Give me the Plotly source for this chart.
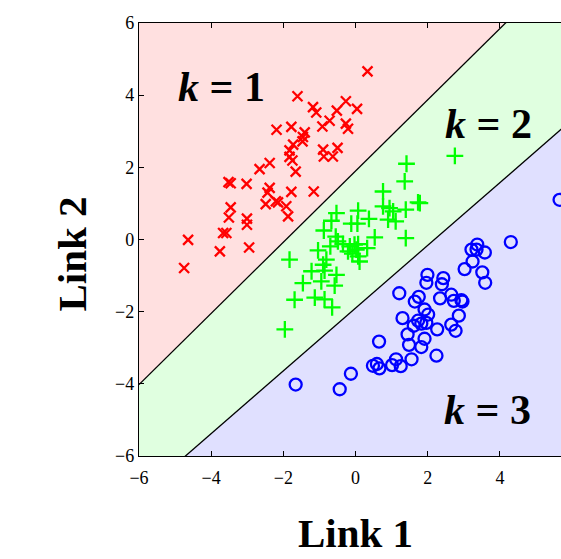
import plotly.graph_objects as go
import numpy as np

# ---- data ----
red_x = [0.33, -1.61, -1.18, -1.09, -0.27, 0.04, -0.52, -0.72, -0.92, -0.27, -0.21,
         -2.19, -1.78, -1.41, -1.46, -1.47, -1.73, -1.83, -1.83, -1.75, -1.66, -0.90,
         -0.88, -0.63, -0.50, -2.38, -2.66, -3.52, -3.46, -3.02, -2.38, -2.44, -1.78,
         -1.16, -2.49, -2.21, -2.15, -1.92, -1.87, -3.46, -3.51, -3.01, -3.01, -3.67,
         -3.58, -4.64, -3.76, -2.95, -4.75]
red_y = [4.66, 3.97, 3.67, 3.52, 3.83, 3.62, 3.57, 3.29, 3.13, 3.21, 3.07,
         3.04, 3.12, 2.97, 2.84, 2.72, 2.63, 2.47, 2.29, 2.19, 1.88, 2.49,
         2.30, 2.30, 2.54, 2.12, 1.95, 1.59, 1.56, 1.54, 1.43, 1.30, 1.32,
         1.33, 0.98, 1.06, 1.03, 0.92, 0.64, 0.89, 0.61, 0.58, 0.41, 0.18,
         0.18, -0.01, -0.33, -0.22, -0.79]

green_x = [2.75, 1.41, 1.36, 0.76, 1.73, 1.78, 0.76, 0.94, 1.04, 1.39, 0.90, 1.11,
           0.07, 0.37, -0.53, -0.67, -0.12, 0.05, -0.88, 0.53, 1.39, -0.55, -0.49,
           -0.70, -0.35, -0.16, -0.03, 0.07, -0.21, -0.09, 0.02, 0.32, 0.07, 0.11,
           -1.04, -1.83, -0.81, -0.90, -1.22, -0.86, -0.53, -1.46, -0.95, -0.58,
           -1.13, -0.86, -1.69, -0.65, -1.96]
green_y = [2.32, 2.10, 1.61, 1.33, 1.03, 1.01, 0.92, 0.87, 0.78, 0.83, 0.55, 0.50,
           0.80, 0.57, 0.73, 0.52, 0.44, 0.44, 0.25, 0.06, 0.04, 0.08, -0.05,
           -0.19, -0.13, -0.19, -0.14, -0.13, -0.33, -0.39, -0.28, -0.24, -0.47, -0.61,
           -0.30, -0.56, -0.56, -0.70, -0.88, -0.86, -0.98, -1.21, -1.16, -1.28,
           -1.61, -1.66, -1.67, -1.88, -2.49]

blue_x = [5.65, 4.30, 3.37, 3.21, 3.35, 3.58, 3.24, 3.02, 3.51, 3.59, 1.99, 1.96,
          2.43, 2.39, 1.21, 1.75, 1.64, 2.34, 2.65, 2.72, 2.93, 2.96, 1.91, 2.01,
          1.30, 1.73, 1.82, 1.96, 1.61, 2.86, 2.65, 2.77, 2.26, 1.44, 1.91, 0.65,
          1.48, 1.82, 2.24, 1.55, 1.12, 1.01, 1.25, 0.48, 0.59, 0.66, -0.13, -0.44,
          -1.66]
blue_y = [1.10, -0.07, -0.14, -0.28, -0.28, -0.36, -0.61, -0.82, -0.91, -1.20, -0.98, -1.20,
          -1.07, -1.24, -1.49, -1.59, -1.72, -1.63, -1.53, -1.70, -1.68, -1.72, -1.94, -2.08,
          -2.18, -2.25, -2.33, -2.31, -2.39, -2.11, -2.36, -2.53, -2.49, -2.63, -2.75, -2.83,
          -2.92, -2.98, -3.22, -3.32, -3.32, -3.48, -3.51, -3.50, -3.45, -3.57, -3.72, -4.15,
          -4.02]

# decision boundaries y = slope * x + intercept
boundary_slopes = [0.987, 0.87]
boundary_intercepts = [1.90, -1.90]

class_labels = ["1", "2", "3"]
label_x = [-3.71, 3.69, 3.66]
label_y = [4.23, 3.21, -4.72]

x_range = [-6, 5.69]
y_range = [-6, 6]
tick_vals = [-6, -4, -2, 0, 2, 4, 6]

# ---- figure ----
SERIF = "Liberation Serif, Times New Roman, serif"
fig = go.Figure()

xl = np.array([-6.0, 6.0])
# region above boundary 2 (green), then above boundary 1 (red); background = blue region
fill_colors = ["rgb(224,255,224)", "rgb(255,224,224)"]
for k, (m, b) in enumerate(zip(boundary_slopes[::-1], boundary_intercepts[::-1])):
    yl = m * xl + b
    fig.add_trace(go.Scatter(
        x=[xl[0], xl[1], xl[1], xl[0]],
        y=[yl[0], yl[1], 20, 20],
        fill="toself", fillcolor=fill_colors[k],
        line=dict(width=0), mode="lines", hoverinfo="skip", showlegend=False))

for m, b in zip(boundary_slopes, boundary_intercepts):
    fig.add_trace(go.Scatter(x=xl, y=m * xl + b, mode="lines",
                             line=dict(color="black", width=1.3),
                             hoverinfo="skip", showlegend=False))

fig.add_trace(go.Scatter(x=red_x, y=red_y, mode="markers", showlegend=False,
                         marker=dict(symbol="x-thin", size=10, color="red",
                                     line=dict(color="red", width=2.3))))
fig.add_trace(go.Scatter(x=green_x, y=green_y, mode="markers", showlegend=False,
                         marker=dict(symbol="cross-thin", size=12, color="#00ff00",
                                     line=dict(color="#00ff00", width=2.3))))
fig.add_trace(go.Scatter(x=blue_x, y=blue_y, mode="markers", showlegend=False,
                         marker=dict(symbol="circle-open", size=12, color="blue",
                                     line=dict(color="blue", width=2.3))))

for t, lx, ly in zip(class_labels, label_x, label_y):
    fig.add_annotation(x=lx, y=ly, text="<b><i>k</i> = " + t + "</b>", showarrow=False,
                       font=dict(family=SERIF, size=42, color="black"),
                       xanchor="center", yanchor="middle")

fig.add_annotation(xref="paper", yref="paper", x=0.512, y=-0.178, text="<b>Link 1</b>",
                   showarrow=False, font=dict(family=SERIF, size=41, color="black"),
                   xanchor="center", yanchor="middle")
fig.add_annotation(xref="paper", yref="paper", x=-0.158, y=0.466, text="<b>Link 2</b>",
                   showarrow=False, textangle=-90,
                   font=dict(family=SERIF, size=41, color="black"),
                   xanchor="center", yanchor="middle")

axis_common = dict(showgrid=False, zeroline=False, showline=True, linecolor="black",
                   linewidth=1.3, ticks="inside", ticklen=5, tickwidth=1.2,
                   tickcolor="black", tickvals=tick_vals,
                   tickfont=dict(family=SERIF, size=18, color="black"))
fig.update_xaxes(range=x_range, mirror="ticks", ticklabelstandoff=5, **axis_common)
fig.update_yaxes(range=y_range, mirror=False, **axis_common)

fig.update_layout(width=561, height=559,
                  margin=dict(l=139, r=0, t=23, b=103),
                  plot_bgcolor="rgb(224,224,255)", paper_bgcolor="white",
                  showlegend=False)

# remove the default page margin so the figure fills the window exactly
fig.write_html("out.html",
               config={"displayModeBar": False},
               post_script="document.body.style.margin='0px';"
                           "document.body.style.overflow='hidden';")
